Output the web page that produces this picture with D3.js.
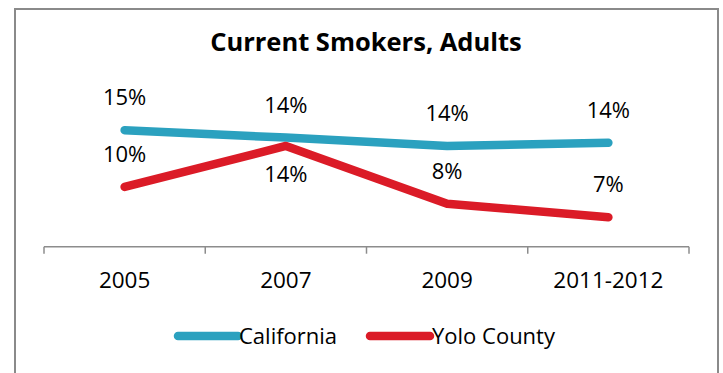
<!DOCTYPE html>
<html>
<head>
<meta charset="utf-8">
<script src="https://cdn.jsdelivr.net/npm/d3@7/dist/d3.min.js"></script>
<style>
  body { margin: 0; background: #fff; }
  text { font-family: "Open Sans", Lato, sans-serif; fill: #000; }
</style>
</head>
<body>
<svg id="chart" width="723" height="373"></svg>
<script>
// Share of adults who currently smoke (%)
const periods = ["2005", "2007", "2009", "2011-2012"];
const california = [15.1, 14.4, 13.6, 13.9];
const yoloCounty = [9.7, 13.6, 8.1, 6.8];
const seriesNames = ["California", "Yolo County"];
const seriesColors = ["#2ba1bf", "#db1b27"];
// where each value label sits relative to its point
const californiaLabelPos = ["above", "above", "above", "above"];
const yoloLabelPos = ["above", "below", "above", "above"];

const series = [
  { name: seriesNames[0], values: california, color: seriesColors[0], pos: californiaLabelPos },
  { name: seriesNames[1], values: yoloCounty, color: seriesColors[1], pos: yoloLabelPos }
];

const svg = d3.select("#chart");

// outer chart frame
svg.append("rect")
  .attr("x", 15).attr("y", 9)
  .attr("width", 703).attr("height", 380)
  .attr("fill", "#fff")
  .attr("stroke", "#8a8a8a")
  .attr("stroke-width", 2);

// title
svg.append("text")
  .attr("x", 366).attr("y", 51)
  .attr("text-anchor", "middle")
  .style("font-size", "25.5px")
  .style("font-weight", "bold")
  .text("Current Smokers, Adults");

const x = d3.scaleBand().domain(periods).range([44, 689]).paddingInner(0).paddingOuter(0);
const cx = d => x(d) + x.bandwidth() / 2;
const y = d3.scaleLinear().domain([4, 16]).range([246.7, 120.8]);

// category axis: baseline, boundary ticks, centred labels
const axisG = svg.append("g").attr("transform", `translate(0,${y(4)})`);
const boundaries = periods.map(p => x(p)).concat([x.range()[1]]);
axisG.append("line")
  .attr("x1", x.range()[0]).attr("x2", x.range()[1])
  .attr("stroke", "#8c8c8c").attr("stroke-width", 1.5);
axisG.selectAll(".tick")
  .data(boundaries).join("line")
  .attr("x1", d => d).attr("x2", d => d)
  .attr("y1", 0).attr("y2", 7)
  .attr("stroke", "#8c8c8c").attr("stroke-width", 1.5);
axisG.selectAll(".cat")
  .data(periods).join("text")
  .attr("x", d => cx(d)).attr("y", 41.5)
  .attr("text-anchor", "middle")
  .style("font-size", "22.5px")
  .text(d => d);

// lines
const line = d3.line()
  .x((v, i) => cx(periods[i]))
  .y(v => y(v));

series.forEach(s => {
  svg.append("path")
    .datum(s.values)
    .attr("d", line)
    .attr("fill", "none")
    .attr("stroke", s.color)
    .attr("stroke-width", 8.5)
    .attr("stroke-linecap", "round")
    .attr("stroke-linejoin", "round");
});

// value labels
const pct = d3.format(".0f");
series.forEach(s => {
  svg.append("g").selectAll("text")
    .data(s.values).join("text")
    .attr("x", (v, i) => cx(periods[i]))
    .attr("y", (v, i) => s.pos[i] === "below" ? y(v) + 36 : y(v) - 25)
    .attr("text-anchor", "middle")
    .style("font-size", "22px")
    .text(v => pct(v) + "%");
});

// legend
const legendItems = [
  { x0: 178, x1: 238, tx: 239 },
  { x0: 370, x1: 430, tx: 432 }
];
series.forEach((s, i) => {
  const li = legendItems[i];
  svg.append("line")
    .attr("x1", li.x0).attr("x2", li.x1)
    .attr("y1", 336).attr("y2", 336)
    .attr("stroke", s.color)
    .attr("stroke-width", 8.5)
    .attr("stroke-linecap", "round");
  svg.append("text")
    .attr("x", li.tx).attr("y", 344)
    .style("font-size", "22px")
    .text(s.name);
});
</script>
</body>
</html>
